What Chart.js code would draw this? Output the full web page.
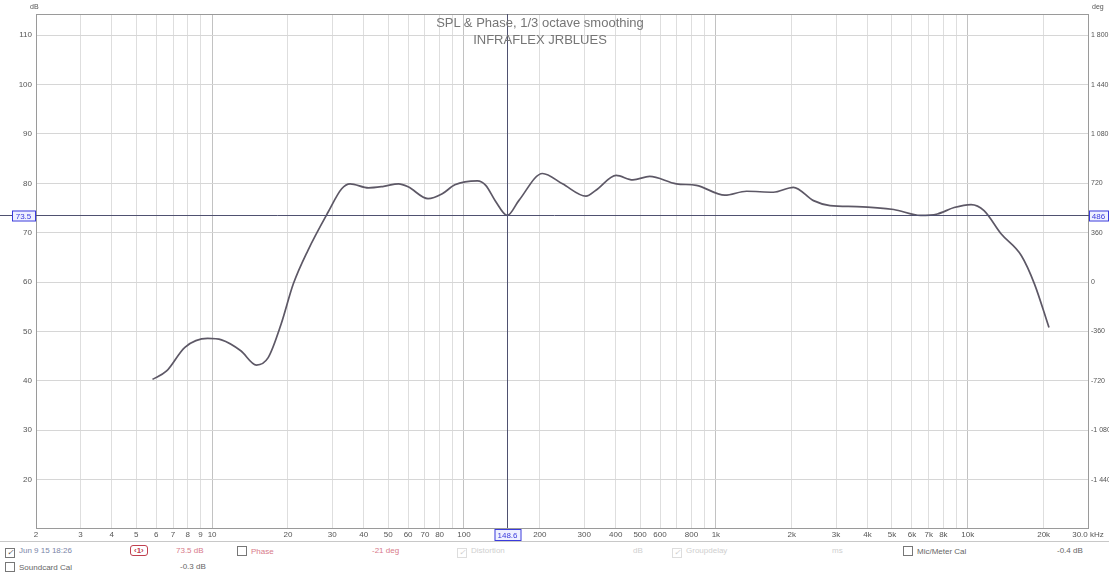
<!DOCTYPE html>
<html>
<head>
<meta charset="utf-8">
<title>SPL & Phase</title>
<script src="https://cdn.jsdelivr.net/npm/chart.js@4.4.1/dist/chart.umd.min.js"></script>
<style>
  body { margin: 0; background: #fff; font-family: "Liberation Sans", Arial, sans-serif; }
  #wrap { position: relative; width: 1109px; height: 576px; overflow: hidden; }
  #splChart { position: absolute; left: 0; top: 0; }
  .title { position: absolute; left: 0; width: 1080px; text-align: center; color: #767676; font-size: 13px; line-height: 15px; }
  .unit { position: absolute; top: 3px; font-size: 7px; color: #555; }
  #bar { position: absolute; left: 0; top: 541px; width: 1109px; height: 35px; border-top: 1px solid #c8c8c8; font-size: 8px; color: #666; }
  #bar span { position: absolute; white-space: nowrap; }
  .cb { display: inline-block; width: 8px; height: 8px; border: 1px solid #777; vertical-align: -2px; margin-right: 4px; font-size: 8px; line-height: 8px; text-align: center; color: #555; }
  .red { color: #d87a8a; }
  .faded { color: #cfcfcf; }
  .faded .cb { border-color: #ddd; color: #ccc; }
  .tag { border: 1px solid #c0404f; color: #c0404f; border-radius: 3px; padding: 0 3px; font-weight: bold; }
</style>
</head>
<body>
<div id="wrap">
  <canvas id="splChart" width="1109" height="541"></canvas>
  <div class="title" style="top:15px">SPL &amp; Phase, 1/3 octave smoothing</div>
  <div class="title" style="top:32px">INFRAFLEX JRBLUES</div>
  <div class="unit" style="left:30px">dB</div>
  <div class="unit" style="left:1092px">deg</div>
  <div id="bar">
    <span style="left:5px;top:4px"><i class="cb">✓</i><span style="position:static;color:#7b86a8">Jun 9 15 18:26</span></span>
    <span style="left:130px;top:3px" class="tag">‹1›</span>
    <span style="left:176px;top:4px" class="red">73.5 dB</span>
    <span style="left:237px;top:4px" class="red"><i class="cb"></i>Phase</span>
    <span style="left:372px;top:4px" class="red" >-21 deg</span>
    <span style="left:457px;top:4px" class="faded"><i class="cb">✓</i>Distortion</span>
    <span style="left:633px;top:4px" class="faded">dB</span>
    <span style="left:672px;top:4px" class="faded"><i class="cb">✓</i>Groupdelay</span>
    <span style="left:832px;top:4px" class="faded">ms</span>
    <span style="left:903px;top:4px"><i class="cb"></i>Mic/Meter Cal</span>
    <span style="left:1057px;top:4px">-0.4 dB</span>
    <span style="left:5px;top:20px"><i class="cb"></i>Soundcard Cal</span>
    <span style="left:180px;top:20px">-0.3 dB</span>
  </div>
</div>
<script>
const freqs = [5.8, 6.6, 7.8, 9.6, 10.9, 13.0, 15.0, 16.7, 18.8, 21.0, 24.0, 28.9, 32.7, 35.3,
  41.8, 48, 55, 60, 72, 82, 92, 113, 122, 133, 148.6, 165, 205, 246, 305, 334, 402, 468, 546,
  697, 836, 1085, 1323, 1690, 2030, 2440, 2840, 3630, 5080, 6500, 7570, 8830, 10300, 11600,
  13550, 16300, 18400, 21000];
const splDb = [40.3, 42.0, 46.8, 48.6, 48.3, 46.1, 43.2, 44.7, 51.5, 59.6, 66.4, 74.2, 78.9, 79.9,
  79.1, 79.4, 79.9, 79.3, 76.9, 77.9, 79.7, 80.5, 79.6, 76.5, 73.5, 76.5, 82.0, 79.9, 77.4, 78.6,
  81.6, 80.7, 81.4, 79.9, 79.6, 77.6, 78.4, 78.2, 79.2, 76.5, 75.5, 75.3, 74.7, 73.5, 73.8,
  75.1, 75.7, 74.5, 69.8, 65.4, 59.6, 50.8];

// Cursore
const cursorFreq = 148.6;
const cursorDb = 73.5;
const cursorPhaseText = '486';

// Assi
const xGridValues = [2, 3, 4, 5, 6, 7, 8, 9, 10, 20, 30, 40, 50, 60, 70, 80, 90, 100, 200, 300, 400,
  500, 600, 700, 800, 900, 1000, 2000, 3000, 4000, 5000, 6000, 7000, 8000, 9000, 10000, 20000, 30000];
const xLabelValues = [2, 3, 4, 5, 6, 7, 8, 9, 10, 20, 30, 40, 50, 60, 70, 80, 100, 200, 300, 400,
  500, 600, 800, 1000, 2000, 3000, 4000, 5000, 6000, 7000, 8000, 10000, 20000, 30000];
const dbTicks = [20, 30, 40, 50, 60, 70, 80, 90, 100, 110];
const phaseTicks = [-1440, -1080, -720, -360, 0, 360, 720, 1080, 1440, 1800];
const phaseTickLabels = ['-1 440', '-1 080', '-720', '-360', '0', '360', '720', '1 080', '1 440', '1 800'];

const yMin = 10.2, yMax = 114.3;

function freqLabel(v) {
  if (!xLabelValues.includes(v)) return '';
  if (v === 30000) return '30.0 kHz';
  return v >= 1000 ? (v / 1000) + 'k' : String(v);
}

// Cornice, cursore e riquadri dei valori
const cursorPlugin = {
  id: 'cursor',
  afterDatasetsDraw(chart) {
    const { ctx, chartArea: a, scales } = chart;
    const cx = Math.round(scales.x.getPixelForValue(cursorFreq)) + 0.5;
    const cy = Math.round(scales.y.getPixelForValue(cursorDb)) + 0.5;
    ctx.save();
    ctx.strokeStyle = '#9a9a9a';
    ctx.lineWidth = 1;
    ctx.strokeRect(a.left + 0.5, a.top + 0.5, a.right - a.left, a.bottom - a.top);
    ctx.strokeStyle = '#4f5170';
    ctx.beginPath();
    ctx.moveTo(cx, a.top); ctx.lineTo(cx, a.bottom);
    ctx.moveTo(0, cy); ctx.lineTo(chart.width, cy);
    ctx.stroke();

    ctx.font = '8px "Liberation Sans", Arial';
    ctx.textBaseline = 'middle';
    ctx.textAlign = 'center';
    const box = (x, y, w, h, txt) => {
      ctx.fillStyle = '#eef0ff';
      ctx.fillRect(x, y, w, h);
      ctx.strokeStyle = '#3a3adc';
      ctx.strokeRect(x + 0.5, y + 0.5, w, h);
      ctx.fillStyle = '#3a3adc';
      ctx.fillText(txt, x + w / 2, y + h / 2 + 1);
    };
    box(cx - 13, a.bottom + 1, 26, 11, cursorFreq.toFixed(1));
    box(12, cy - 5, 23, 10, cursorDb.toFixed(1));
    box(a.right + 1, cy - 5, 19, 10, cursorPhaseText);
    ctx.restore();
  }
};

const ctx = document.getElementById('splChart').getContext('2d');

const splChart = new Chart(ctx, {
  type: 'scatter',
  data: {
    datasets: [{
      label: 'SPL',
      data: freqs.map((f, i) => ({ x: f, y: splDb[i] })),
      showLine: true,
      borderColor: '#5d5866',
      borderWidth: 1.7,
      pointRadius: 0,
      cubicInterpolationMode: 'monotone',
      fill: false,
      yAxisID: 'y',
    }],
  },
  options: {
    responsive: false,
    animation: false,
    devicePixelRatio: 1,
    layout: { padding: { top: 14, left: 0, right: 0, bottom: 0 } },
    plugins: { legend: { display: false }, tooltip: { enabled: false }, title: { display: false } },
    scales: {
      x: {
        type: 'logarithmic',
        min: 2,
        max: 30000,
        afterBuildTicks: s => { s.ticks = xGridValues.map(v => ({ value: v })); },
        afterFit: s => { s.height = 13; },
        ticks: {
          autoSkip: false, maxRotation: 0, minRotation: 0, padding: 2,
          font: { size: 8, family: '"Liberation Sans", Arial' }, color: '#555',
          callback: v => freqLabel(v),
        },
        grid: {
          drawTicks: false,
          color: c => [10, 100, 1000, 10000].includes(c.tick && c.tick.value) ? '#c2c2c2' : '#dedede',
        },
        border: { display: false },
      },
      y: {
        position: 'left',
        min: yMin,
        max: yMax,
        afterBuildTicks: s => { s.ticks = dbTicks.map(v => ({ value: v })); },
        afterFit: s => { s.width = 36; },
        ticks: { padding: 4, font: { size: 8, family: '"Liberation Sans", Arial' }, color: '#555' },
        grid: { drawTicks: false, color: '#d6d6d6' },
        border: { display: false },
      },
      y2: {
        position: 'right',
        min: (yMin - 60) * 36,
        max: (yMax - 60) * 36,
        afterBuildTicks: s => { s.ticks = phaseTicks.map(v => ({ value: v })); },
        afterFit: s => { s.width = 21; },
        ticks: {
          padding: 3, font: { size: 7, family: '"Liberation Sans", Arial' }, color: '#555',
          callback: v => phaseTickLabels[phaseTicks.indexOf(v)],
        },
        grid: { drawOnChartArea: false, drawTicks: false },
        border: { display: false },
      },
    },
  },
  plugins: [cursorPlugin],
});
</script>
</body>
</html>
